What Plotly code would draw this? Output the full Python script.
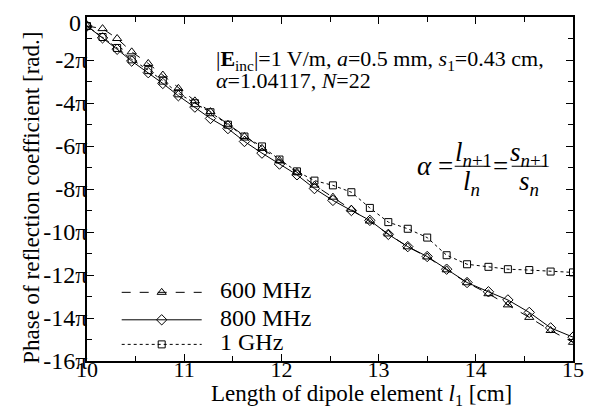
import plotly.graph_objects as go

# Length of dipole element l1 [cm]
l1 = [10.00, 10.16, 10.31, 10.46, 10.63, 10.78, 10.94, 11.11, 11.27, 11.45,
      11.62, 11.80, 11.98, 12.16, 12.34, 12.53, 12.72, 12.91, 13.10, 13.30,
      13.50, 13.70, 13.91, 14.13, 14.33, 14.55, 14.77, 15.00]

# Phase of reflection coefficient, in units of pi
phase_600 = [-0.42, -0.54, -1.00, -1.62, -2.16, -2.70, -3.32, -3.90, -4.40, -4.99,
             -5.56, -6.11, -6.67, -7.22, -7.82, -8.38, -8.94, -9.49, -10.09, -10.69,
             -11.16, -11.76, -12.36, -12.87, -13.39, -13.97, -14.58, -15.13]
phase_800 = [-0.42, -0.97, -1.50, -2.05, -2.59, -3.09, -3.66, -4.19, -4.72, -5.19,
             -5.79, -6.33, -6.84, -7.34, -7.98, -8.53, -9.00, -9.46, -10.11, -10.68,
             -11.14, -11.73, -12.35, -12.78, -13.16, -13.74, -14.46, -14.89]
phase_1g = [-0.42, -0.93, -1.44, -1.97, -2.47, -2.96, -3.55, -4.01, -4.43, -5.01,
            -5.56, -6.02, -6.63, -7.18, -7.61, -7.83, -8.15, -8.88, -9.54, -9.85,
            -10.26, -11.08, -11.50, -11.62, -11.73, -11.77, -11.84, -11.88]

series_names = ["600 MHz", "800 MHz", "1 GHz"]
y_tickvals = [0, -2, -4, -6, -8, -10, -12, -14, -16]
y_ticktext = ["", "-2π", "-4π", "-6π", "-8π", "-10π", "-12π", "-14π", "-16π"]
y_top_label = "0"
x_tickvals = [10, 11, 12, 13, 14, 15]

FONT = "Liberation Serif"

# page body has an 8px margin: figure is drawn offset by (8, 8)
OFF = 8
L, R, T, B = 87.3, 573.3, 15.0, 360.7   # plot area in window pixels
W, H = 598 - OFF, 408 - OFF

def px(xp): return (xp - L) / (R - L)
def py(yp): return (B - yp) / (B - T)

fig = go.Figure()
styles = [("dash", "triangle-up-open"), ("solid", "diamond-open"), ("dot", "square-open")]
sizes = [8, 8, 7]
for name, ys, (dash, sym), sz in zip(series_names, [phase_600, phase_800, phase_1g], styles, sizes):
    fig.add_trace(go.Scatter(
        x=l1, y=ys, name=name, mode="lines+markers", showlegend=False,
        line=dict(color="black", width=1, dash=dash),
        marker=dict(symbol=sym, size=sz, color="black", line=dict(width=1, color="black")),
    ))

# legend samples drawn on a hidden overlay axis (0..1 over the plot area)
leg_rows = [291.7, 319.3, 344.0]
for (dash, sym), sz, yr in zip(styles, sizes, leg_rows):
    fig.add_trace(go.Scatter(
        x=[px(122), px(202)], y=[py(yr), py(yr)], mode="lines", xaxis="x2", yaxis="y2",
        showlegend=False, hoverinfo="skip", line=dict(color="black", width=1, dash=dash)))
    fig.add_trace(go.Scatter(
        x=[px(162)], y=[py(yr)], mode="markers", xaxis="x2", yaxis="y2",
        showlegend=False, hoverinfo="skip",
        marker=dict(symbol=sym, size=sz, color="black", line=dict(width=1, color="black"))))

axis_common = dict(
    showline=True, linecolor="black", linewidth=1.5, mirror="ticks",
    ticks="inside", ticklen=7, tickwidth=1, tickcolor="black",
    showgrid=False, zeroline=False,
)
fig.update_layout(
    xaxis=dict(range=[10, 15], tickvals=x_tickvals, ticklabelstandoff=-12,
               tickfont=dict(family=FONT, size=22, color="black"),
               minor=dict(ticks="inside", ticklen=5, dtick=0.5, tickcolor="black", showgrid=False),
               **axis_common),
    yaxis=dict(range=[-16, 0], tickvals=y_tickvals, ticktext=y_ticktext, ticklabelstandoff=-7,
               tickfont=dict(family=FONT, size=24, color="black"),
               minor=dict(ticks="inside", ticklen=5, dtick=1, tickcolor="black", showgrid=False),
               **axis_common),
    xaxis2=dict(range=[0, 1], overlaying="x", visible=False, fixedrange=True),
    yaxis2=dict(range=[0, 1], overlaying="y", visible=False, fixedrange=True),
)

txt = dict(family=FONT, size=23, color="black")
box = dict(family=FONT, size=22, color="black")
leg_font = dict(family=FONT, size=24, color="black")
big = dict(family=FONT, size=27, color="black")
annotations = [
    dict(text=y_top_label, x=px(83), y=py(21), font=dict(family=FONT, size=24, color="black"),
         xanchor="right"),
    dict(text="Length of dipole element <i>l</i><sub>1</sub> [cm]",
         x=px(362), y=py(395), font=txt),
    dict(text="Phase of reflection coefficient [rad.]",
         x=px(31), y=py(197), font=txt, textangle=-90),
    dict(text="|<b>E</b><sub>inc</sub>|=1 V/m, <i>a</i>=0.5 mm, <i>s</i><sub>1</sub>=0.43 cm,",
         x=px(214), y=py(58), font=box, xanchor="left"),
    dict(text="<i>α</i>=1.04117, <i>N</i>=22",
         x=px(214), y=py(79), font=box, xanchor="left"),
    dict(text="<i>α</i> =", x=px(435), y=py(165), font=big),
    dict(text="<i>l</i><sub><i>n</i>+1</sub>", x=px(474), y=py(153), font=big),
    dict(text="<i>l</i><sub><i>n</i></sub>", x=px(472), y=py(182), font=big),
    dict(text="=", x=px(501), y=py(165), font=big),
    dict(text="<i>s</i><sub><i>n</i>+1</sub>", x=px(530), y=py(153), font=big),
    dict(text="<i>s</i><sub><i>n</i></sub>", x=px(529), y=py(182), font=big),
]
for name, yr in zip(series_names, leg_rows):
    annotations.append(dict(text=name, x=px(218), y=py(yr - 2), font=leg_font, xanchor="left"))
for a in annotations:
    a.setdefault("xanchor", "center")
    a.setdefault("yanchor", "middle")
    a.update(xref="paper", yref="paper", showarrow=False)

shapes = [
    dict(type="line", xref="paper", yref="paper", x0=px(455), x1=px(490), y0=py(165), y1=py(165),
         line=dict(color="black", width=1)),
    dict(type="line", xref="paper", yref="paper", x0=px(512), x1=px(547), y0=py(165), y1=py(165),
         line=dict(color="black", width=1)),
]

fig.update_layout(
    width=W, height=H,
    margin=dict(l=L - OFF, r=W - (R - OFF), t=T - OFF, b=H - (B - OFF), pad=0),
    plot_bgcolor="white", paper_bgcolor="white",
    font=dict(family=FONT, color="black"),
    showlegend=False,
    annotations=annotations, shapes=shapes,
)
fig.write_html("out.html")
